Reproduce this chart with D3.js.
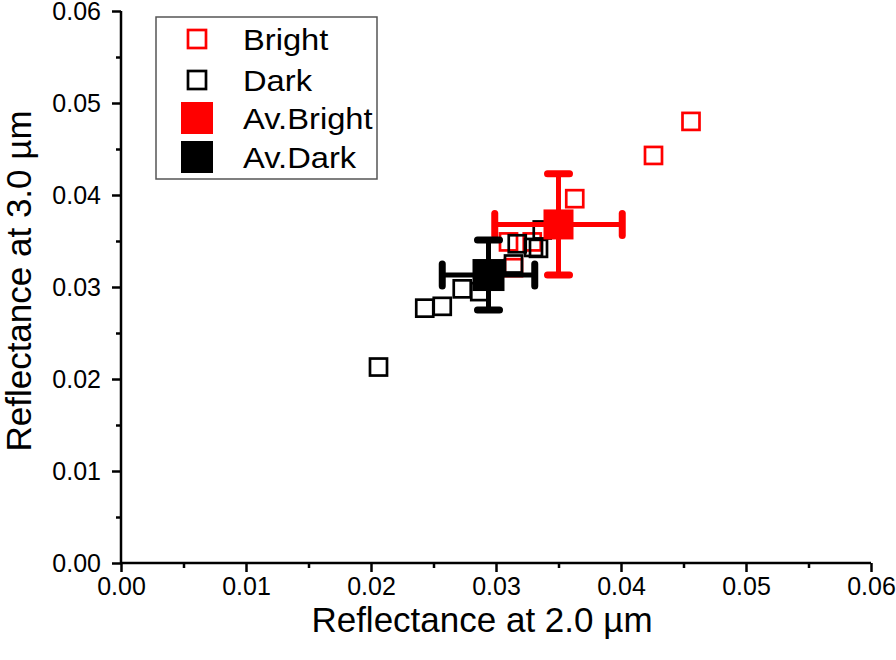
<!DOCTYPE html>
<html>
<head>
<meta charset="utf-8">
<script src="https://cdn.jsdelivr.net/npm/d3@7"></script>
<style>
  html, body { margin: 0; padding: 0; background: #fff; }
  svg { display: block; font-family: "Liberation Sans", Arial, sans-serif; }
</style>
</head>
<body>
<svg id="chart" width="896" height="660"></svg>
<script>
// ---- data ----
const brightX = [0.0456, 0.0426, 0.0363, 0.0314, 0.0310, 0.0329];
const brightY = [0.0480, 0.0443, 0.0396, 0.0321, 0.0349, 0.0349];
const darkX = [0.0206, 0.0243, 0.0257, 0.0273, 0.0287, 0.0314, 0.0317, 0.0330, 0.0334, 0.0337];
const darkY = [0.0213, 0.0277, 0.0279, 0.0298, 0.0295, 0.0325, 0.0347, 0.0343, 0.0342, 0.0362];
const avBright = { x: 0.0350, y: 0.0368, ex: 0.0051, ey: 0.0055 };
const avDark = { x: 0.0294, y: 0.0313, ex: 0.0037, ey: 0.0038 };
const xTicks = [0.00, 0.01, 0.02, 0.03, 0.04, 0.05, 0.06];
const yTicks = [0.00, 0.01, 0.02, 0.03, 0.04, 0.05, 0.06];
const legendLabels = ["Bright", "Dark", "Av.Bright", "Av.Dark"];
const xTitle = "Reflectance at 2.0 µm";
const yTitle = "Reflectance at 3.0 µm";

const svg = d3.select("#chart");
const x = d3.scaleLinear().domain([0, 0.06]).range([121, 871]);
const y = d3.scaleLinear().domain([0, 0.06]).range([563, 11]);

// minor ticks
const xMinor = d3.range(0.005, 0.06, 0.01);
const yMinor = d3.range(0.005, 0.06, 0.01);

// axes
const xAxis = svg.append("g").attr("transform", `translate(0,${y(0)})`)
  .call(d3.axisBottom(x).tickValues(xTicks).tickFormat(d3.format(".2f")).tickSize(9).tickPadding(5));
svg.append("g").attr("transform", `translate(0,${y(0)})`)
  .call(d3.axisBottom(x).tickValues(xMinor).tickFormat("").tickSize(5))
  .call(g => g.select(".domain").remove());
const yAxis = svg.append("g").attr("transform", `translate(${x(0)},0)`)
  .call(d3.axisLeft(y).tickValues(yTicks).tickFormat(d3.format(".2f")).tickSize(9).tickPadding(11));
svg.append("g").attr("transform", `translate(${x(0)},0)`)
  .call(d3.axisLeft(y).tickValues(yMinor).tickFormat("").tickSize(5))
  .call(g => g.select(".domain").remove());

svg.selectAll(".domain").attr("stroke", "#000").attr("stroke-width", 2.5);
svg.selectAll(".tick line").attr("stroke", "#000").attr("stroke-width", 2.5);
svg.selectAll(".tick text").attr("fill", "#000").attr("font-size", 25)
  .attr("font-family", "'Liberation Sans', Arial, sans-serif");
xAxis.selectAll(".domain").attr("d", `M${x(0)-1},0H${x(0.06)}`);
yAxis.selectAll(".domain").attr("d", `M0,${y(0)+1}V${y(0.06)}`);

// axis titles
svg.append("text").attr("x", 482).attr("y", 632).attr("text-anchor", "middle")
  .attr("font-size", 35).attr("fill", "#000").text(xTitle);
svg.append("text").attr("transform", "translate(31,281) rotate(-90)").attr("text-anchor", "middle")
  .attr("font-size", 35).attr("fill", "#000").text(yTitle);

const plot = svg.append("g");
const openSize = 17;

// Bright points (open red squares)
plot.selectAll(".bright").data(brightX.map((v, i) => [v, brightY[i]])).join("rect")
  .attr("x", d => x(d[0]) - openSize / 2).attr("y", d => y(d[1]) - openSize / 2)
  .attr("width", openSize).attr("height", openSize)
  .attr("fill", "none").attr("stroke", "#ff0000").attr("stroke-width", 2.7);

// Dark points (open black squares)
plot.selectAll(".dark").data(darkX.map((v, i) => [v, darkY[i]])).join("rect")
  .attr("x", d => x(d[0]) - openSize / 2).attr("y", d => y(d[1]) - openSize / 2)
  .attr("width", openSize).attr("height", openSize)
  .attr("fill", "none").attr("stroke", "#000").attr("stroke-width", 2.7);

function avg(d, color, cap, size) {
  const g = plot.append("g");
  const cx = x(d.x), cy = y(d.y);
  g.append("line").attr("x1", x(d.x - d.ex)).attr("x2", x(d.x + d.ex)).attr("y1", cy).attr("y2", cy)
    .attr("stroke", color).attr("stroke-width", 5);
  g.append("line").attr("x1", cx).attr("x2", cx).attr("y1", y(d.y - d.ey)).attr("y2", y(d.y + d.ey))
    .attr("stroke", color).attr("stroke-width", 5);
  [x(d.x - d.ex), x(d.x + d.ex)].forEach(px => g.append("line")
    .attr("x1", px).attr("x2", px).attr("y1", cy - cap / 2).attr("y2", cy + cap / 2)
    .attr("stroke", color).attr("stroke-width", 7).attr("stroke-linecap", "round"));
  [y(d.y - d.ey), y(d.y + d.ey)].forEach(py => g.append("line")
    .attr("y1", py).attr("y2", py).attr("x1", cx - cap / 2).attr("x2", cx + cap / 2)
    .attr("stroke", color).attr("stroke-width", 7).attr("stroke-linecap", "round"));
  g.append("rect").attr("x", cx - size / 2).attr("y", cy - size / 2)
    .attr("width", size).attr("height", size).attr("fill", color);
}
avg(avBright, "#ff0000", 22, 30);
avg(avDark, "#000", 22, 32);

// legend
const lg = svg.append("g");
lg.append("rect").attr("x", 156).attr("y", 17).attr("width", 221).attr("height", 162)
  .attr("fill", "#fff").attr("stroke", "#555").attr("stroke-width", 1.5);
const legendY = [39, 80, 118, 157];
const legendColors = ["#ff0000", "#000", "#ff0000", "#000"];
legendLabels.forEach((t, i) => {
  if (i < 2) {
    lg.append("rect").attr("x", 197 - 9).attr("y", legendY[i] - 9).attr("width", 18).attr("height", 18)
      .attr("fill", "none").attr("stroke", legendColors[i]).attr("stroke-width", 2.7);
  } else {
    lg.append("rect").attr("x", 197 - 16).attr("y", legendY[i] - 16).attr("width", 32).attr("height", 32)
      .attr("fill", legendColors[i]);
  }
  lg.append("text").attr("transform", `translate(243,${legendY[i] + 10.5}) scale(1.09,1)`)
    .attr("font-size", 30).attr("fill", "#000").text(t);
});
</script>
</body>
</html>
